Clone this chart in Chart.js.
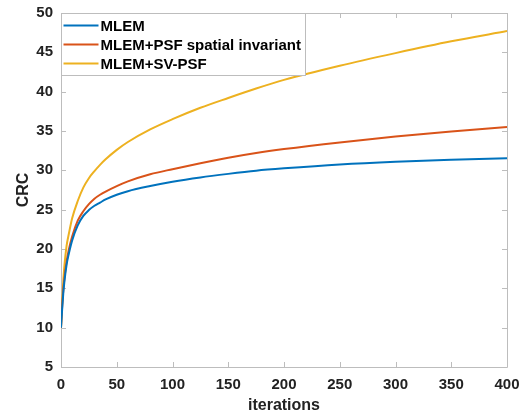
<!DOCTYPE html>
<html>
<head>
<meta charset="utf-8">
<script src="https://cdn.jsdelivr.net/npm/chart.js@4/dist/chart.umd.min.js"></script>
<style>
  html, body { margin: 0; padding: 0; background: #ffffff; }
  #wrap { width: 532px; height: 420px; position: relative; }
</style>
</head>
<body>
<div id="wrap"><canvas id="c" width="532" height="420"></canvas></div>
<script>
const iterations = [0, 1, 2, 3, 5, 7, 10, 15, 20, 25, 30, 35, 40, 50, 60, 80, 100, 125, 150, 175, 200, 250, 300, 350, 400];
const mlem      = [10, 12.3, 14.3, 15.8, 18.0, 19.4, 21.1, 23.0, 24.2, 24.95, 25.5, 25.9, 26.3, 26.9, 27.35, 28.0, 28.55, 29.1, 29.55, 29.95, 30.25, 30.75, 31.1, 31.35, 31.55];
const mlemPsf   = [10, 12.6, 14.7, 16.2, 18.4, 19.9, 21.6, 23.6, 24.8, 25.7, 26.4, 26.9, 27.3, 28.0, 28.6, 29.5, 30.15, 30.9, 31.6, 32.2, 32.7, 33.55, 34.3, 34.95, 35.5];
const mlemSvPsf = [10, 13.2, 15.8, 17.8, 20.4, 21.9, 23.9, 26.1, 27.8, 29.0, 29.9, 30.7, 31.4, 32.6, 33.6, 35.2, 36.5, 37.95, 39.2, 40.4, 41.5, 43.3, 44.9, 46.4, 47.7];
const seriesLabels = ["MLEM", "MLEM+PSF spatial invariant", "MLEM+SV-PSF"];
const xTicks = [0, 50, 100, 150, 200, 250, 300, 350, 400];
const yTicks = [5, 10, 15, 20, 25, 30, 35, 40, 45, 50];

const colors = ["#0072BD", "#D95319", "#EDB120"];
const FONT = '"Liberation Sans", Arial, Helvetica, sans-serif';
const AXIS_COLOR = "#bdbdbd";

function pts(arr) { return iterations.map((x, i) => ({ x: x, y: arr[i] })); }

const frameAndTicks = {
  id: "frameAndTicks",
  beforeDatasetsDraw(chart) {
    const { ctx, chartArea: a, scales: { x, y } } = chart;
    const L = 5;
    ctx.save();
    ctx.strokeStyle = AXIS_COLOR;
    ctx.lineWidth = 1;
    ctx.beginPath();
    ctx.rect(Math.round(a.left) + 0.5, Math.round(a.top) + 0.5,
             Math.round(a.right) - Math.round(a.left), Math.round(a.bottom) - Math.round(a.top));
    xTicks.forEach(v => {
      const px = Math.round(x.getPixelForValue(v)) + 0.5;
      ctx.moveTo(px, a.bottom); ctx.lineTo(px, a.bottom - L);
      ctx.moveTo(px, a.top); ctx.lineTo(px, a.top + L);
    });
    yTicks.forEach(v => {
      const py = Math.round(y.getPixelForValue(v)) + 0.5;
      ctx.moveTo(a.left, py); ctx.lineTo(a.left + L, py);
      ctx.moveTo(a.right, py); ctx.lineTo(a.right - L, py);
    });
    ctx.stroke();
    ctx.restore();
  }
};

const insideLegend = {
  id: "insideLegend",
  afterDatasetsDraw(chart) {
    const { ctx, chartArea: a } = chart;
    ctx.save();
    ctx.font = "bold 15px " + FONT;
    const left = Math.round(a.left) + 0.5, top = Math.round(a.top) + 0.5;
    const lineX0 = left + 2, lineX1 = left + 37, textX = left + 39;
    let maxW = 0;
    chart.data.datasets.forEach(d => { maxW = Math.max(maxW, ctx.measureText(d.label).width); });
    const boxW = Math.round(textX + maxW + 5 - left);
    const rowH = 19, boxH = 62;
    ctx.fillStyle = "#ffffff";
    ctx.fillRect(left, top, boxW, boxH);
    ctx.strokeStyle = AXIS_COLOR;
    ctx.lineWidth = 1;
    ctx.strokeRect(left, top, boxW, boxH);
    chart.data.datasets.forEach((d, i) => {
      const yy = top + 12 + i * rowH;
      ctx.strokeStyle = d.borderColor;
      ctx.lineWidth = 2;
      ctx.beginPath();
      ctx.moveTo(lineX0, yy); ctx.lineTo(lineX1, yy);
      ctx.stroke();
      ctx.fillStyle = "#000000";
      ctx.textBaseline = "middle";
      ctx.textAlign = "left";
      ctx.fillText(d.label, textX, yy + 1);
    });
    ctx.restore();
  }
};

new Chart(document.getElementById("c"), {
  type: "line",
  data: {
    datasets: [
      { label: seriesLabels[0], data: pts(mlem), borderColor: colors[0] },
      { label: seriesLabels[1], data: pts(mlemPsf), borderColor: colors[1] },
      { label: seriesLabels[2], data: pts(mlemSvPsf), borderColor: colors[2] }
    ]
  },
  options: {
    responsive: false,
    animation: false,
    devicePixelRatio: 1,
    layout: { padding: { top: 13, right: 25, left: 0, bottom: 0 } },
    elements: {
      point: { radius: 0, hoverRadius: 0 },
      line: { borderWidth: 2, fill: false, cubicInterpolationMode: "monotone" }
    },
    plugins: { legend: { display: false }, tooltip: { enabled: false } },
    scales: {
      x: {
        type: "linear", min: 0, max: 400,
        afterBuildTicks(scale) { scale.ticks = xTicks.map(v => ({ value: v })); },
        afterFit(scale) { scale.height = 53; scale.paddingLeft = 0; scale.paddingRight = 0; },
        grid: { display: false, drawTicks: false },
        border: { display: false },
        ticks: { color: "#222222", padding: 9, maxRotation: 0, font: { family: FONT, size: 15, weight: "bold" } },
        title: { display: true, text: "iterations", color: "#222222", padding: { top: 0, bottom: 5 },
                 font: { family: FONT, size: 16, weight: "bold" } }
      },
      y: {
        type: "linear", min: 5, max: 50,
        afterBuildTicks(scale) { scale.ticks = yTicks.map(v => ({ value: v })); },
        afterFit(scale) { scale.width = 61; scale.paddingTop = 0; scale.paddingBottom = 0; },
        grid: { display: false, drawTicks: false },
        border: { display: false },
        ticks: { color: "#222222", padding: 8, font: { family: FONT, size: 15, weight: "bold" } },
        title: { display: true, text: "CRC", color: "#222222", padding: { top: 14, bottom: 0 },
                 font: { family: FONT, size: 16, weight: "bold" } }
      }
    }
  },
  plugins: [frameAndTicks, insideLegend]
});
</script>
</body>
</html>
